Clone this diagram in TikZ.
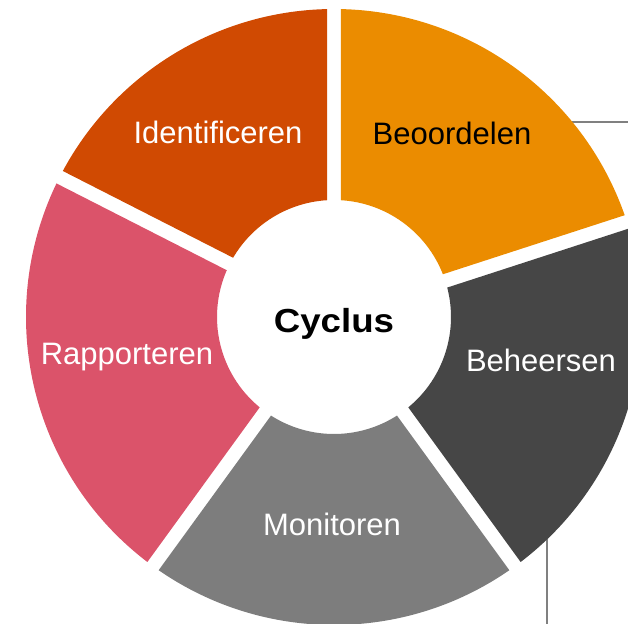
\documentclass[tikz,border=0pt]{standalone}
\usepackage{fontspec}
\setmainfont{Liberation Sans}
\usetikzlibrary{positioning, calc}

\definecolor{beoordeelkleur}{HTML}{EB8C00}
\definecolor{identkleur}{HTML}{D04A02}
\definecolor{beheerkleur}{HTML}{464646}
\definecolor{monitorkleur}{HTML}{7D7D7D}
\definecolor{rapportkleur}{HTML}{DB536A}
\definecolor{lijnkleur}{HTML}{808080}

\begin{document}
\begin{tikzpicture}[x=0.75pt, y=0.75pt]
	\tikzstyle{label}=[anchor=base, inner sep=0pt, font=\fontsize{23.25pt}{28pt}\selectfont];
	\tikzstyle{lijn}=[draw=lijnkleur, line width=1.5pt];

	\useasboundingbox (-334, -307) rectangle (294, 317);

	% lijnen naar buiten
	\coordinate (l1a) at (230, 195);
	\coordinate (l1b) at (294, 195);
	\coordinate (l2a) at (213, -215);
	\coordinate (l2b) at (213, -307);
	\draw[lijn] (l1a) -- (l1b);
	\draw[lijn] (l2a) -- (l2b);

	% segmenten
	\fill[beoordeelkleur] (19.3:308) arc[start angle=19.3, end angle=88.7, radius=308]
		-- (86.57:117) arc[start angle=86.57, end angle=21.43, radius=117] -- cycle;
	\fill[beheerkleur] (-52.7:308) arc[start angle=-52.7, end angle=16.7, radius=308]
		-- (14.57:117) arc[start angle=14.57, end angle=-50.57, radius=117] -- cycle;
	\fill[monitorkleur] (-124.7:308) arc[start angle=-124.7, end angle=-55.3, radius=308]
		-- (-57.43:117) arc[start angle=-57.43, end angle=-122.57, radius=117] -- cycle;
	\fill[rapportkleur] (154.3:308) arc[start angle=154.3, end angle=232.7, radius=308]
		-- (230.57:117) arc[start angle=230.57, end angle=156.43, radius=117] -- cycle;
	\fill[identkleur] (91.3:308) arc[start angle=91.3, end angle=151.7, radius=308]
		-- (149.57:117) arc[start angle=149.57, end angle=93.43, radius=117] -- cycle;

	% teksten
	\node[label, text=black] (beoordelen) at (118, 172) {Beoordelen};
	\node[label, text=white] (identificeren) at (-116, 173) {Identificeren};
	\node[label, text=white] (beheersen) at (207, -55) {Beheersen};
	\node[label, text=white] (monitoren) at (-2, -218) {Monitoren};
	\node[label, text=white] (rapporteren) at (-207, -48) {Rapporteren};
	\node[label, text=black, font=\fontsize{25pt}{30pt}\selectfont\bfseries] (cyclus) at (0, -16) {\scalebox{1.1}[1]{Cyclus}};

\end{tikzpicture}
\end{document}
